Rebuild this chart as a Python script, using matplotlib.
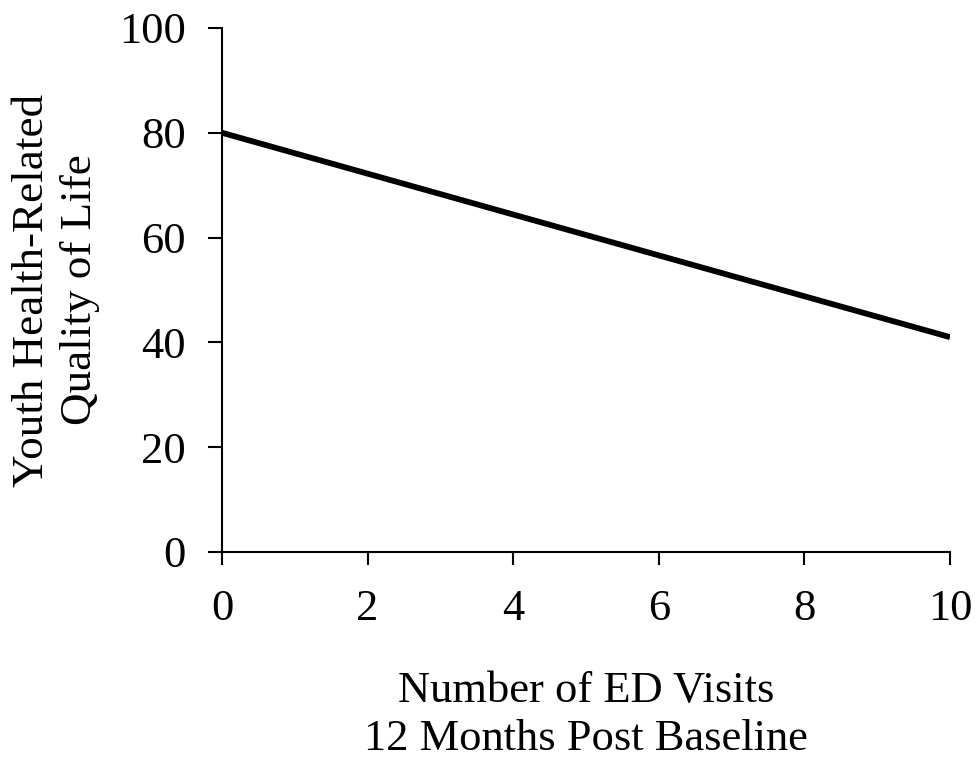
import matplotlib.pyplot as plt

# Data
ed_visits = [0, 10]
quality_of_life = [80, 41]
x_ticks = [0, 2, 4, 6, 8, 10]
y_ticks = [0, 20, 40, 60, 80, 100]

plt.rcParams['font.family'] = ['Liberation Serif', 'DejaVu Serif']

fig = plt.figure(figsize=(9.8, 7.64), dpi=100)
ax = fig.add_axes([0.2265, 0.2775, 0.7429, 0.6859])

ax.plot(ed_visits, quality_of_life, color='black', linewidth=4.2, solid_capstyle='butt')

ax.set_xlim(0, 10)
ax.set_ylim(0, 100)
ax.set_xticks(x_ticks)
ax.set_yticks(y_ticks)

ax.spines['top'].set_visible(False)
ax.spines['right'].set_visible(False)
for s in ['left', 'bottom']:
    ax.spines[s].set_linewidth(1.5)

ax.tick_params(axis='y', direction='out', length=10, width=1.5, labelsize=32, pad=16)
ax.tick_params(axis='x', direction='out', length=9, width=1.5, labelsize=32, pad=18)

ax.set_xlabel('Number of ED Visits\n12 Months Post Baseline', fontsize=32, labelpad=30, linespacing=1.25)
ax.set_ylabel('Youth Health-Related\nQuality of Life', fontsize=32.5, labelpad=14, linespacing=1.25)

plt.savefig('out.png', dpi=100)
